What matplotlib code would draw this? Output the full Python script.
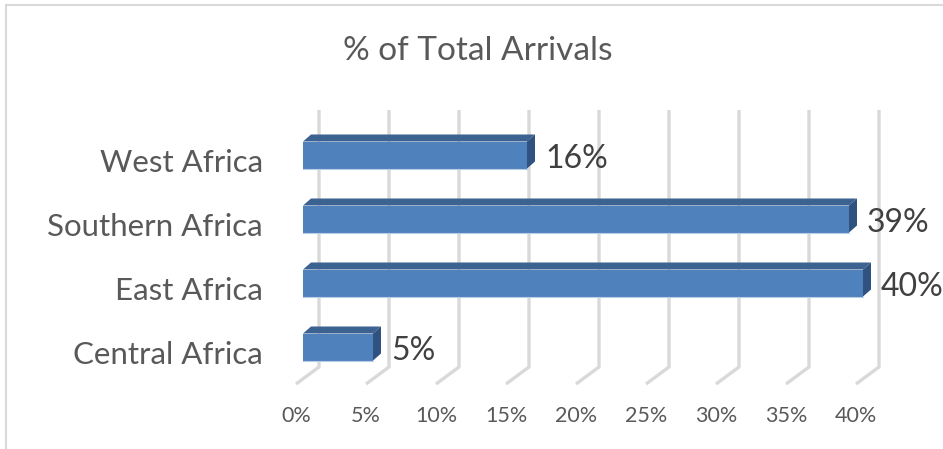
import matplotlib

matplotlib.use("Agg", force=True)
import matplotlib.pyplot as plt
from matplotlib.patches import Polygon, Rectangle

# data, bottom row first
regions = ["Central Africa", "East Africa", "Southern Africa", "West Africa"]
shares = [5, 40, 39, 16]
tick_values = [0, 5, 10, 15, 20, 25, 30, 35, 40]
tick_labels = [f"{v}%" for v in tick_values]
title = "% of Total Arrivals"

FONT = "Lato"
TEXT = "#595959"
GRID = "#D9D9D9"
FRONT = "#4F81BD"
TOP = "#3C6291"
SIDE = "#2F5280"

W, H, DPI = 943, 449, 100
# the axes spans the whole canvas: 14 px per percent, 64 px per row
PX_PCT, PX_ROW = 14.0, 64.0
X0, Y0 = 303, 347  # pixel of (0 %, first row)

fig = plt.figure(figsize=(W / DPI, H / DPI), dpi=DPI)
ax = fig.add_axes([0, 0, 1, 1])
ax.set_xlim(-X0 / PX_PCT, (W - X0) / PX_PCT)
ax.set_ylim((Y0 - H) / PX_ROW, Y0 / PX_ROW)
ax.axis("off")

# chart frame (left / top edges visible)
fig.patches.append(Rectangle((6 / W, -0.1), 1.2, (H - 5) / H + 0.1, transform=fig.transFigure,
                             fill=False, ec=GRID, lw=1.5))

# oblique projection helpers
bar_h = 27 / PX_ROW
dep_x, dep_y = 8 / PX_PCT, 7 / PX_ROW
wall_x = 16 / PX_PCT
floor_x = -7 / PX_PCT
grid_top = (Y0 - 110) / PX_ROW
wall_bot = (Y0 - 367) / PX_ROW
floor_bot = (Y0 - 384) / PX_ROW

for v in tick_values:
    ax.plot([v + wall_x, v + wall_x, v + floor_x], [grid_top, wall_bot, floor_bot],
            color=GRID, lw=2.4, solid_capstyle="butt", solid_joinstyle="miter", zorder=1)

for i, (name, v) in enumerate(zip(regions, shares)):
    lo, hi = i - bar_h / 2, i + bar_h / 2
    ax.add_patch(Rectangle((0, lo), v, bar_h, fc=FRONT, ec="none", zorder=3))
    ax.add_patch(Polygon([(0, hi), (v, hi), (v + dep_x, hi + dep_y), (dep_x, hi + dep_y)],
                         closed=True, fc=TOP, ec="none", zorder=3))
    ax.add_patch(Polygon([(v, lo), (v, hi), (v + dep_x, hi + dep_y), (v + dep_x, lo + dep_y)],
                         closed=True, fc=SIDE, ec="none", zorder=3))
    ax.plot([0, v], [lo, lo], color="#B9CDE5", lw=0.8, zorder=4)
    ax.text(v + 18 / PX_PCT, i - 12.5 / PX_ROW, f"{v}%", ha="left", va="baseline",
            fontsize=23, color="#404040", family=FONT)
    ax.text(-40 / PX_PCT, i - 17 / PX_ROW, name, ha="right", va="baseline",
            fontsize=22.5, color=TEXT, family=FONT)

for v, lab in zip(tick_values, tick_labels):
    ax.text(v + floor_x, (Y0 - 422) / PX_ROW, lab, ha="center", va="baseline",
            fontsize=15.5, color=TEXT, family=FONT)

fig.text(478 / W, 1 - 60 / H, title, ha="center", va="baseline",
         fontsize=24, color=TEXT, family=FONT)

fig.savefig("out.png", dpi=DPI)
plt.close(fig)
